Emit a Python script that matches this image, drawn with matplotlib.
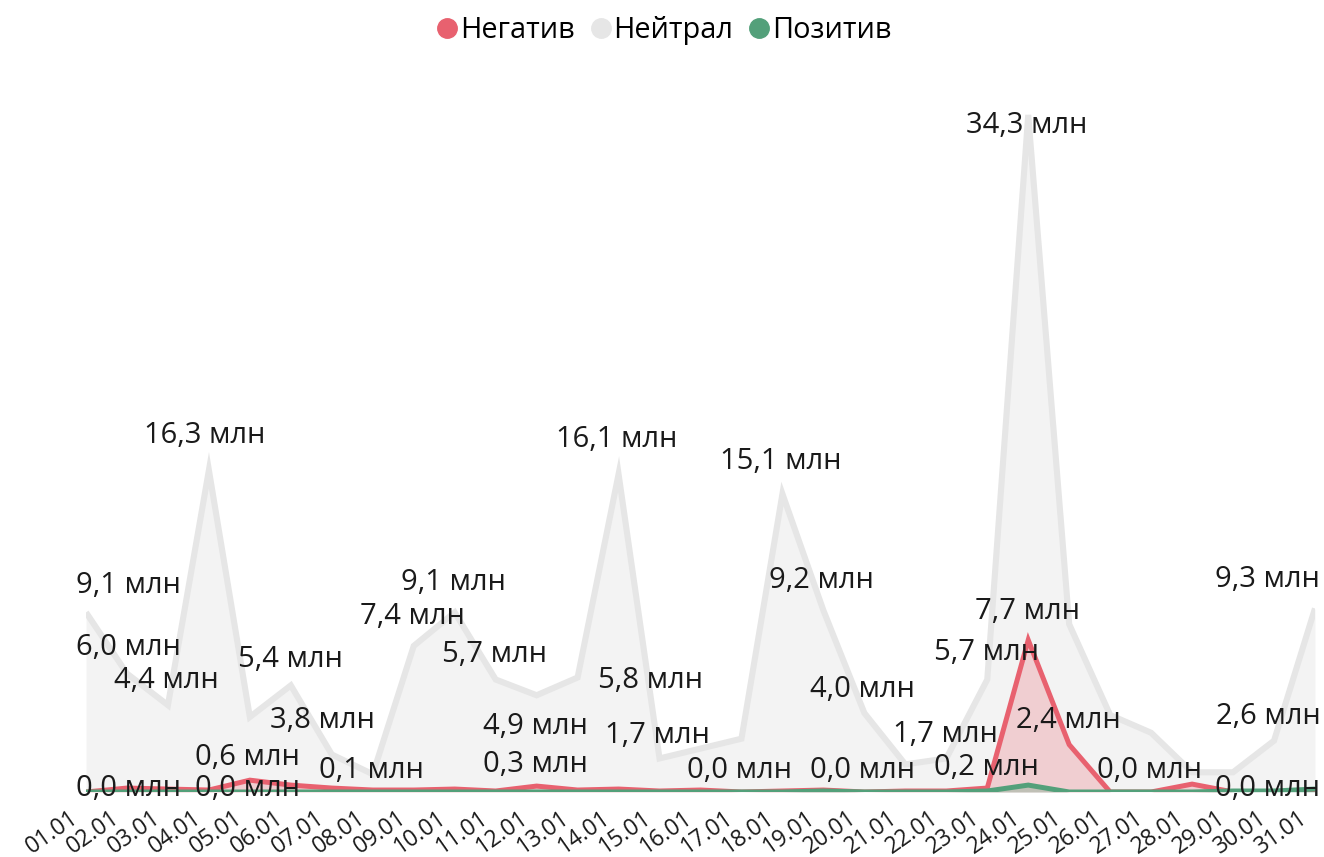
import matplotlib
matplotlib.use("Agg")
import matplotlib.pyplot as plt
from matplotlib.lines import Line2D
import matplotlib.transforms as mtransforms
import numpy as np

plt.rcParams['font.family'] = ['Open Sans', 'DejaVu Sans']

# ---- data ----
dates = [f"{d:02d}.01" for d in range(1, 32)]
neutral = [9.1, 6.0, 4.4, 16.3, 3.8, 5.4, 1.9, 0.9, 7.4, 9.1, 5.7, 4.9, 5.8, 16.1, 1.7, 2.2,
           2.7, 15.1, 9.2, 4.0, 1.4, 1.7, 5.7, 34.3, 8.5, 3.9, 3.0, 1.0, 1.0, 2.6, 9.3]
negative = [0.0, 0.2, 0.15, 0.1, 0.6, 0.35, 0.2, 0.1, 0.1, 0.15, 0.05, 0.3, 0.1, 0.15, 0.05, 0.1,
            0.0, 0.05, 0.1, 0.0, 0.05, 0.05, 0.2, 7.7, 2.4, 0.0, 0.0, 0.4, 0.0, 0.0, 0.0]
positive = [0.0, 0.0, 0.0, 0.0, 0.0, 0.0, 0.0, 0.0, 0.0, 0.0, 0.0, 0.0, 0.0, 0.0, 0.0, 0.0,
            0.0, 0.0, 0.05, 0.0, 0.0, 0.0, 0.05, 0.35, 0.0, 0.0, 0.0, 0.0, 0.05, 0.05, 0.15]
series_names = ["Негатив", "Нейтрал", "Позитив"]

# data labels: (series, point index, label x in day units, label y in value units)
label_specs = [
    ("Нейтрал", 0, 1.03, 10.45), ("Нейтрал", 1, 1.03, 7.3), ("Нейтрал", 2, 1.95, 5.65),
    ("Нейтрал", 3, 2.9, 18.05), ("Нейтрал", 5, 4.98, 6.7), ("Нейтрал", 4, 5.78, 3.6),
    ("Негатив", 4, 3.95, 1.75), ("Негатив", 0, 1.03, 0.2), ("Позитив", 4, 3.95, 0.2),
    ("Негатив", 7, 6.96, 1.1), ("Нейтрал", 8, 7.96, 8.9), ("Нейтрал", 9, 8.96, 10.6),
    ("Нейтрал", 10, 9.96, 6.95), ("Нейтрал", 11, 10.96, 3.3), ("Негатив", 11, 10.96, 1.4),
    ("Нейтрал", 13, 12.96, 17.85), ("Нейтрал", 12, 13.79, 5.65), ("Нейтрал", 14, 13.96, 2.85),
    ("Негатив", 16, 15.96, 1.1), ("Нейтрал", 17, 16.96, 16.75), ("Нейтрал", 18, 17.96, 10.7),
    ("Нейтрал", 19, 18.96, 5.2), ("Негатив", 19, 18.96, 1.1), ("Нейтрал", 21, 20.97, 2.9),
    ("Негатив", 22, 21.97, 1.25), ("Нейтрал", 22, 21.97, 7.05), ("Негатив", 23, 22.97, 9.15),
    ("Нейтрал", 23, 22.97, 33.75), ("Негатив", 24, 23.97, 3.6), ("Негатив", 26, 25.97, 1.1),
    ("Нейтрал", 29, 28.85, 3.8), ("Нейтрал", 30, 28.85, 10.75), ("Негатив", 30, 28.85, 0.2),
]

colors = {"Негатив": "#E8616F", "Нейтрал": "#E6E6E6", "Позитив": "#53A07A"}
fill_alpha = {"Негатив": 0.25, "Нейтрал": 0.45, "Позитив": 0.3}
values = {"Негатив": negative, "Нейтрал": neutral, "Позитив": positive}

# ---- figure ----
W, H = 1324, 857
fig = plt.figure(figsize=(W / 100, H / 100), dpi=100)
x0, x1 = 86, 1315
base, ppu, ymax = 792, 19.74, 36
ax = fig.add_axes([x0 / W, (H - base) / H, (x1 - x0) / W, ymax * ppu / H])
x = np.arange(len(dates))

for name in ["Нейтрал", "Негатив", "Позитив"]:
    v = values[name]
    ax.fill_between(x, 0, v, color=colors[name], alpha=fill_alpha[name], lw=0)
    ax.plot(x, v, color=colors[name], lw=4.4 if name == "Нейтрал" else 3.6,
            solid_joinstyle='miter', solid_capstyle='butt')

for name, i, lx, ly in label_specs:
    txt = f"{values[name][i]:.1f}".replace('.', ',') + " млн"
    ax.text(lx, ly, txt, ha='center', va='center', fontsize=21, color='#1a1a1a', clip_on=False)

ax.set_xlim(0, 30)
ax.set_ylim(0, ymax)
ax.set_xticks(x)
ax.set_xticklabels(dates, rotation=35, ha='right', va='top', rotation_mode='anchor',
                   fontsize=16.5, color='#1a1a1a')
ax.tick_params(axis='x', length=0, pad=10)
shift = mtransforms.ScaledTranslation(-17 / 100, 0, fig.dpi_scale_trans)
for lab in ax.get_xticklabels():
    lab.set_transform(lab.get_transform() + shift)
ax.set_yticks([])
for s in ax.spines.values():
    s.set_visible(False)

handles = [Line2D([], [], marker='o', ls='none', markersize=14, color=colors[n]) for n in series_names]
fig.legend(handles, series_names, loc='upper center', bbox_to_anchor=(0.499, 1.012), ncol=3,
           frameon=False, fontsize=20.8, handletextpad=-0.15, columnspacing=0.3, handlelength=1.2)

fig.savefig("out.png", dpi=100)
